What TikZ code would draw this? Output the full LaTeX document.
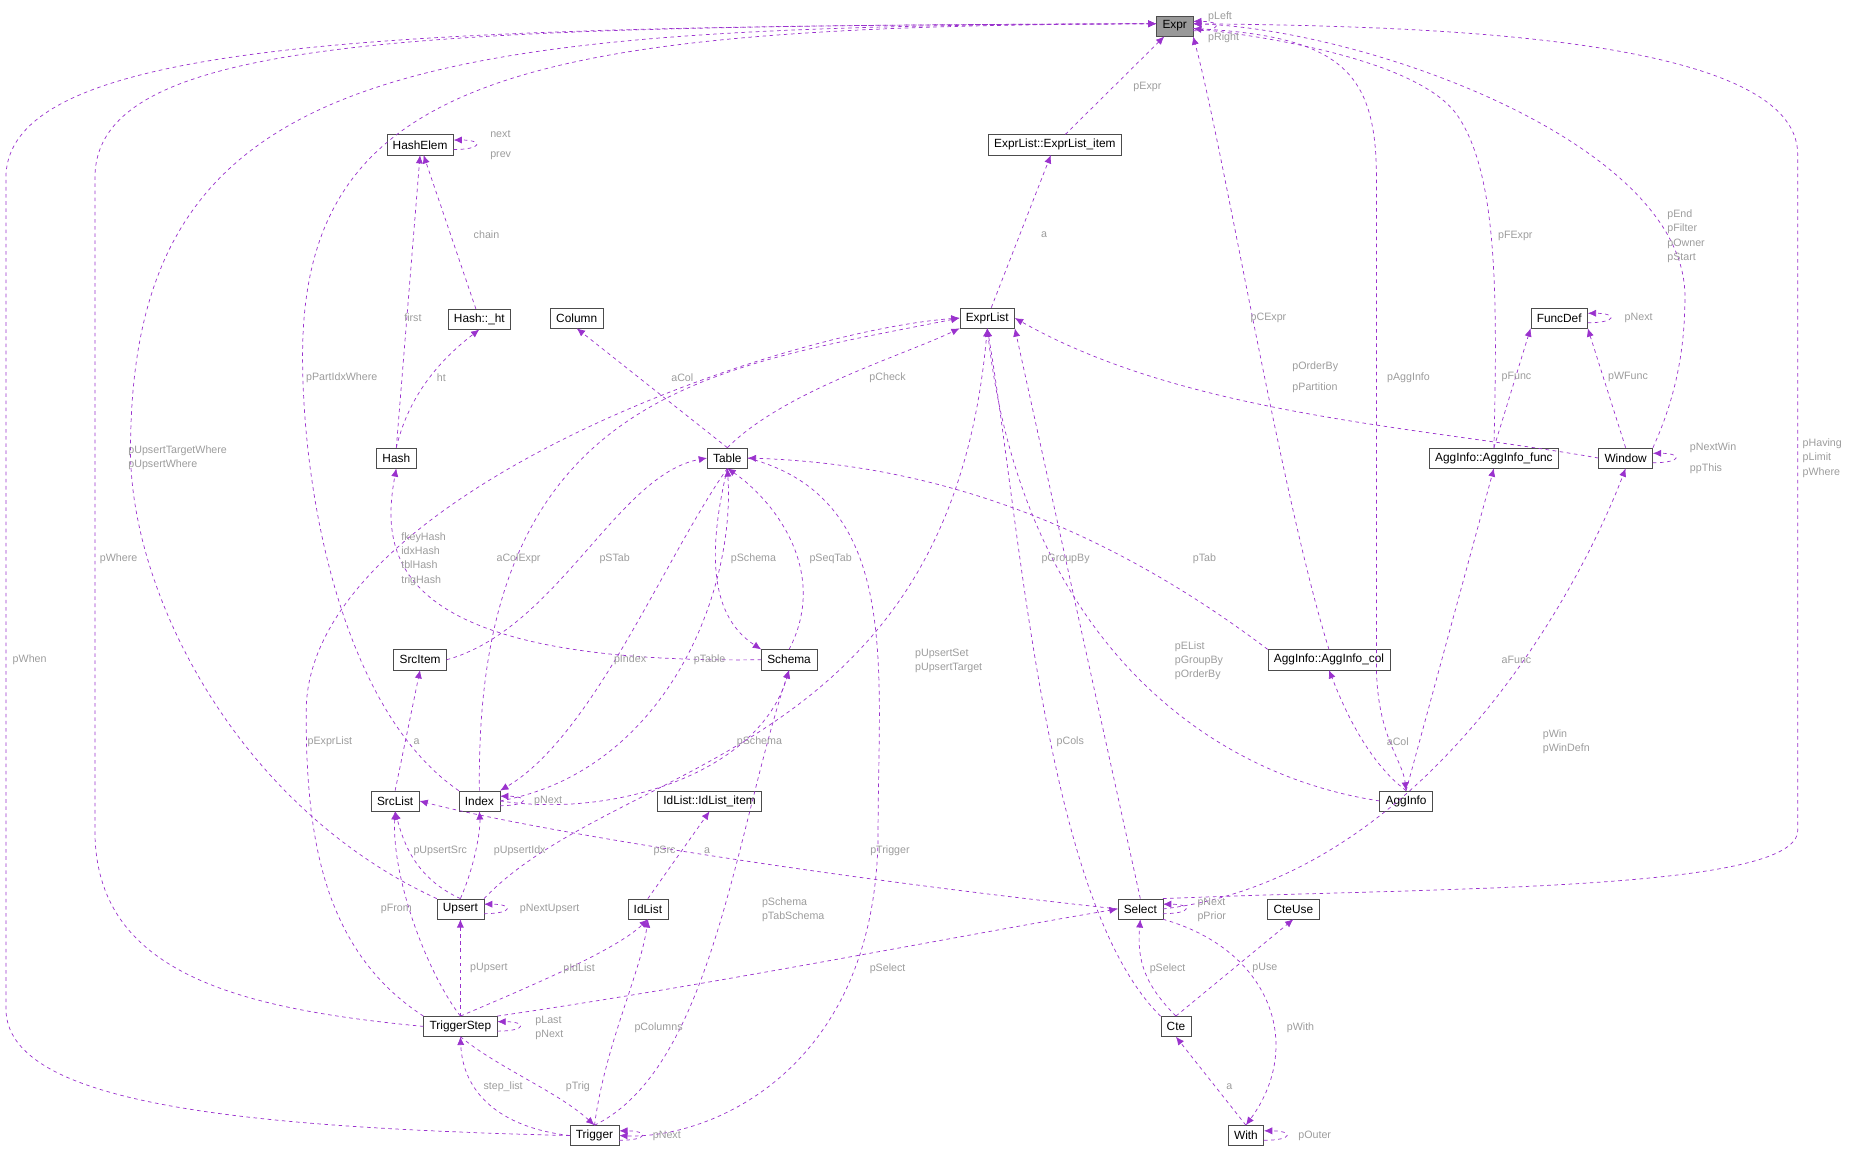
\documentclass[tikz,border=0pt]{standalone}
\usepackage{fontspec}
\setmainfont{Liberation Sans}
\usetikzlibrary{arrows.meta}
\definecolor{edgecol}{HTML}{9A32CD}
\definecolor{lblcol}{HTML}{9C9C9C}
\begin{document}
\begin{tikzpicture}[
    x=1pt, y=-1pt,
    box/.style={
        rectangle,
        draw=black!70,
        fill=white,
        inner xsep=5pt,
        minimum height=17pt,
        font=\fontsize{10}{11}\selectfont
    },
    root/.style={
        box,
        fill=black!40
    },
    edge/.style={
        -{Latex[length=7pt,width=6pt]},
        edgecol,
        dashed,
        semithick
    },
    lbl/.style={
        text=lblcol,
        inner sep=0pt,
        font=\fontsize{9}{10}\selectfont
    }
]
    \useasboundingbox (0,0) rectangle (1565,971);

    % classes
    \node[root] (expr) at (990,22) {Expr};
    \node[box] (he) at (354,122) {HashElem};
    \node[box] (item) at (889,122) {ExprList::ExprList\_item};
    \node[box] (ht) at (404,269) {Hash::\_ht};
    \node[box] (col) at (486,268) {Column};
    \node[box] (el) at (832,268) {ExprList};
    \node[box] (fd) at (1314,268) {FuncDef};
    \node[box] (hash) at (334,386) {Hash};
    \node[box] (tab) at (613,386) {Table};
    \node[box] (afunc) at (1259,386) {AggInfo::AggInfo\_func};
    \node[box] (win) at (1370,386) {Window};
    \node[box] (si) at (354,556) {SrcItem};
    \node[box] (sch) at (665,556) {Schema};
    \node[box] (acol) at (1120,556) {AggInfo::AggInfo\_col};
    \node[box] (sl) at (333,675) {SrcList};
    \node[box] (idx) at (404,675) {Index};
    \node[box] (ili) at (598,675) {IdList::IdList\_item};
    \node[box] (agg) at (1185,675) {AggInfo};
    \node[box] (ups) at (388,766) {Upsert};
    \node[box] (il) at (546,766) {IdList};
    \node[box] (sel) at (961,766) {Select};
    \node[box] (cu) at (1090,766) {CteUse};
    \node[box] (ts) at (388,865) {TriggerStep};
    \node[box] (cte) at (991,865) {Cte};
    \node[box] (trg) at (501,957) {Trigger};
    \node[box] (with) at (1050,957) {With};

    % self references
    \draw[edge] ([yshift=-4]expr.east) .. controls +(25,0) and +(25,0) .. ([yshift=4]expr.east);
    \draw[edge] ([yshift=-4]he.east) .. controls +(25,0) and +(25,0) .. ([yshift=4]he.east);
    \draw[edge] ([yshift=-4]fd.east) .. controls +(25,0) and +(25,0) .. ([yshift=4]fd.east);
    \draw[edge] ([yshift=-4]win.east) .. controls +(25,0) and +(25,0) .. ([yshift=4]win.east);
    \draw[edge] ([yshift=-4]idx.east) .. controls +(25,0) and +(25,0) .. ([yshift=4]idx.east);
    \draw[edge] ([yshift=-4]ups.east) .. controls +(25,0) and +(25,0) .. ([yshift=4]ups.east);
    \draw[edge] ([yshift=-4]sel.east) .. controls +(25,0) and +(25,0) .. ([yshift=4]sel.east);
    \draw[edge] ([yshift=-4]ts.east) .. controls +(25,0) and +(25,0) .. ([yshift=4]ts.east);
    \draw[edge] ([yshift=-4]trg.east) .. controls +(25,0) and +(25,0) .. ([yshift=4]trg.east);
    \draw[edge] ([yshift=-4]with.east) .. controls +(25,0) and +(25,0) .. ([yshift=4]with.east);

    % pointers into Expr
    \draw[edge] (item) -- (expr);
    \draw[edge] (idx.north west) .. controls (290,600) and (255,420) .. (255,300)
        .. controls (255,60) and (450,22) .. ([yshift=2]expr.west);
    \draw[edge] (ups.north west) .. controls (200,680) and (110,500) .. (110,380)
        .. controls (110,50) and (350,22) .. ([yshift=2]expr.west);
    \draw[edge] (ts.west) .. controls (200,850) and (80,820) .. (80,700) -- (80,150)
        .. controls (80,30) and (350,22) .. ([yshift=2]expr.west);
    \draw[edge] (trg.west) .. controls (200,950) and (5,930) .. (5,850) -- (5,150)
        .. controls (5,30) and (350,22) .. ([yshift=2]expr.west);
    \draw[edge] (sel.north east) .. controls (1200,748) and (1515,752) .. (1515,700) -- (1515,130)
        .. controls (1515,30) and (1200,22) .. ([yshift=2]expr.east);
    \draw[edge] (win.north east) .. controls (1410,340) and (1420,300) .. (1420,250)
        .. controls (1420,120) and (1150,25) .. ([yshift=2]expr.east);
    \draw[edge] (afunc.north) .. controls (1262,250) and (1262,150) .. (1230,100)
        .. controls (1200,50) and (1060,30) .. ([yshift=-2]expr.east);
    \draw[edge] (acol.north) .. controls (1080,420) and (1030,120) .. (expr.south east);
    \draw[edge] ([yshift=-2]expr.east) .. controls (1130,30) and (1160,60) .. (1160,150) -- (1160,560)
        .. controls (1160,620) and (1182,640) .. (agg.north);

    % Hash related
    \draw[edge] (ht) -- (he);
    \draw[edge] (hash.north) -- (he.south);
    \draw[edge] (hash.north) .. controls (345,330) and (375,300) .. (ht.south);
    \draw[edge] (sch.west) .. controls (330,560) and (320,470) .. (hash.south);

    % ExprList related
    \draw[edge] (el) -- (item);
    \draw[edge] (tab.north) -- (col.south);
    \draw[edge] (tab.north) .. controls (660,330) and (760,300) .. (el.south west);
    \draw[edge] (win.west) .. controls (1200,360) and (1000,350) .. (el.east);
    \draw[edge] (sel.north) -- (el.south east);
    \draw[edge] (agg.west) .. controls (1000,650) and (860,520) .. (el.south);
    \draw[edge] (cte.north west) .. controls (880,760) and (860,440) .. (el.south);
    \draw[edge] (idx.north) .. controls (400,330) and (600,310) .. (el.west);
    \draw[edge] (ts.north west) .. controls (270,800) and (258,700) .. (258,600)
        .. controls (258,420) and (650,280) .. (el.west);
    \draw[edge] (ups.north east) .. controls (520,640) and (800,640) .. (el.south);

    % FuncDef, Window, AggInfo
    \draw[edge] (afunc.north) -- (fd.south west);
    \draw[edge] (win.north) -- (fd.south east);
    \draw[edge] (agg.north) .. controls (1150,640) and (1130,590) .. (acol.south);
    \draw[edge] (agg.north) -- (afunc.south);
    \draw[edge] (sel.east) .. controls (1200,740) and (1330,500) .. (win.south);

    % Table, Schema, Index
    \draw[edge] (si.east) .. controls (470,530) and (520,400) .. (tab.west);
    \draw[edge] (acol.north west) .. controls (900,420) and (750,390) .. (tab.east);
    \draw[edge] (tab.south) .. controls (560,470) and (500,620) .. (idx.north east);
    \draw[edge] (idx.east) .. controls (560,650) and (620,500) .. (tab.south);
    \draw[edge] (tab.south) .. controls (595,470) and (600,520) .. (sch.north west);
    \draw[edge] (sch.north) .. controls (700,480) and (650,420) .. (tab.south);
    \draw[edge] (idx.east) .. controls (520,690) and (640,650) .. (sch.south);
    \draw[edge] (sl.north) -- (si.south);
    \draw[edge] (tab.east) .. controls (760,420) and (740,560) .. (740,700)
        .. controls (740,900) and (600,960) .. (trg.east);

    % Select, Upsert, IdList
    \draw[edge] (sel.west) .. controls (700,740) and (450,700) .. (sl.east);
    \draw[edge] (ups.north) .. controls (350,740) and (340,710) .. (sl.south);
    \draw[edge] (ups.north) .. controls (400,730) and (405,700) .. (idx.south);
    \draw[edge] (il.north) -- (ili.south);
    \draw[edge] (trg.north) .. controls (600,900) and (620,700) .. (sch.south);
    \draw[edge] (sel.south east) .. controls (1070,800) and (1100,880) .. (with.north);
    \draw[edge] (cte.north) .. controls (965,830) and (958,810) .. (sel.south);
    \draw[edge] (cte.north) -- (cu.south);
    \draw[edge] (with.north) -- (cte.south);

    % TriggerStep and Trigger
    \draw[edge] (ts.north east) .. controls (600,830) and (800,790) .. (sel.west);
    \draw[edge] (ts.north) -- (ups.south);
    \draw[edge] (ts.north) .. controls (360,820) and (330,740) .. (sl.south);
    \draw[edge] (ts.north) .. controls (450,830) and (520,800) .. (il.south);
    \draw[edge] (ts.south) .. controls (420,900) and (470,920) .. (trg.north);
    \draw[edge] (trg.west) .. controls (420,950) and (390,920) .. (ts.south);
    \draw[edge] (trg.north) .. controls (510,880) and (540,820) .. (il.south);

    % labels
    \node[lbl, anchor=west] (lExpr1) at (1018,14) {pLeft};
    \node[lbl, anchor=west] (lExpr2) at (1018,32) {pRight};
    \node[lbl] (lItem) at (967,73) {pExpr};
    \node[lbl, anchor=west] (lHe1) at (413,113) {next};
    \node[lbl, anchor=west] (lHe2) at (413,131) {prev};
    \node[lbl] (lChain) at (410,198) {chain};
    \node[lbl] (lFirst) at (348,268) {first};
    \node[lbl] (lHt) at (372,318) {ht};
    \node[lbl] (lA1) at (880,198) {a};
    \node[lbl] (lACol) at (575,318) {aCol};
    \node[lbl] (lCheck) at (748,318) {pCheck};
    \node[lbl, anchor=west] (lFd) at (1369,268) {pNext};
    \node[lbl] (lFunc) at (1278,318) {pFunc};
    \node[lbl] (lWFunc) at (1372,318) {pWFunc};
    \node[lbl, anchor=west] (lWin1) at (1424,377) {pNextWin};
    \node[lbl, anchor=west] (lWin2) at (1424,395) {ppThis};
    \node[lbl, anchor=west] (lOrd) at (1089,309) {pOrderBy};
    \node[lbl, anchor=west] (lPart) at (1089,327) {pPartition};
    \node[lbl, anchor=west, align=left] (lWinE) at (1405,199)
        {pEnd\\[2pt]pFilter\\[2pt]pOwner\\[2pt]pStart};
    \node[lbl] (lFExpr) at (1277,199) {pFExpr};
    \node[lbl] (lCExpr) at (1069,268) {pCExpr};
    \node[lbl] (lAgg) at (1187,318) {pAggInfo};
    \node[lbl] (lPidx) at (288,318) {pPartIdxWhere};
    \node[lbl, anchor=west, align=left] (lUps) at (108,386)
        {pUpsertTargetWhere\\[2pt]pUpsertWhere};
    \node[lbl] (lTsW) at (100,471) {pWhere};
    \node[lbl] (lWhen) at (25,556) {pWhen};
    \node[lbl, anchor=west, align=left] (lSelE) at (1519,386)
        {pHaving\\[2pt]pLimit\\[2pt]pWhere};
    \node[lbl, anchor=west, align=left] (lHash) at (338,471)
        {fkeyHash\\[2pt]idxHash\\[2pt]tblHash\\[2pt]trigHash};
    \node[lbl] (lSTab) at (518,471) {pSTab};
    \node[lbl] (lAColE) at (437,471) {aColExpr};
    \node[lbl] (lExprL) at (278,625) {pExprList};
    \node[lbl] (lIndex) at (531,556) {pIndex};
    \node[lbl] (lTable) at (598,556) {pTable};
    \node[lbl] (lSch1) at (635,471) {pSchema};
    \node[lbl] (lSeq) at (700,471) {pSeqTab};
    \node[lbl] (lTab) at (1015,471) {pTab};
    \node[lbl, anchor=west, align=left] (lSel) at (990,557)
        {pEList\\[2pt]pGroupBy\\[2pt]pOrderBy};
    \node[lbl] (lGrp) at (898,471) {pGroupBy};
    \node[lbl] (lCols) at (902,625) {pCols};
    \node[lbl, anchor=west, align=left] (lUSet) at (771,557)
        {pUpsertSet\\[2pt]pUpsertTarget};
    \node[lbl] (lSch2) at (640,625) {pSchema};
    \node[lbl] (lA2) at (351,625) {a};
    \node[lbl, anchor=west] (lIdx) at (450,675) {pNext};
    \node[lbl] (lACol2) at (1178,625) {aCol};
    \node[lbl] (lAFunc) at (1278,556) {aFunc};
    \node[lbl, anchor=west, align=left] (lWinS) at (1300,625)
        {pWin\\[2pt]pWinDefn};
    \node[lbl] (lSrc) at (560,717) {pSrc};
    \node[lbl] (lUSrc) at (371,717) {pUpsertSrc};
    \node[lbl] (lUIdx) at (438,717) {pUpsertIdx};
    \node[lbl, anchor=west] (lUps2) at (438,766) {pNextUpsert};
    \node[lbl] (lA3) at (596,717) {a};
    \node[lbl] (lTrig) at (750,717) {pTrigger};
    \node[lbl, anchor=west, align=left] (lTSch) at (642,767)
        {pSchema\\[2pt]pTabSchema};
    \node[lbl, anchor=west, align=left] (lSel2) at (1009,767)
        {pNext\\[2pt]pPrior};
    \node[lbl] (lWith) at (1096,866) {pWith};
    \node[lbl] (lSel3) at (984,816) {pSelect};
    \node[lbl] (lUse) at (1066,816) {pUse};
    \node[lbl] (lA4) at (1036,916) {a};
    \node[lbl, anchor=west] (lOuter) at (1094,957) {pOuter};
    \node[lbl] (lSel4) at (748,816) {pSelect};
    \node[lbl] (lUps3) at (412,816) {pUpsert};
    \node[lbl] (lFrom) at (334,766) {pFrom};
    \node[lbl] (lIdL) at (488,816) {pIdList};
    \node[lbl, anchor=west, align=left] (lTs) at (451,866)
        {pLast\\[2pt]pNext};
    \node[lbl] (lTrg) at (487,916) {pTrig};
    \node[lbl] (lStep) at (424,916) {step\_list};
    \node[lbl] (lColsT) at (555,866) {pColumns};
    \node[lbl, anchor=west] (lTrgN) at (550,957) {pNext};
\end{tikzpicture}
\end{document}
